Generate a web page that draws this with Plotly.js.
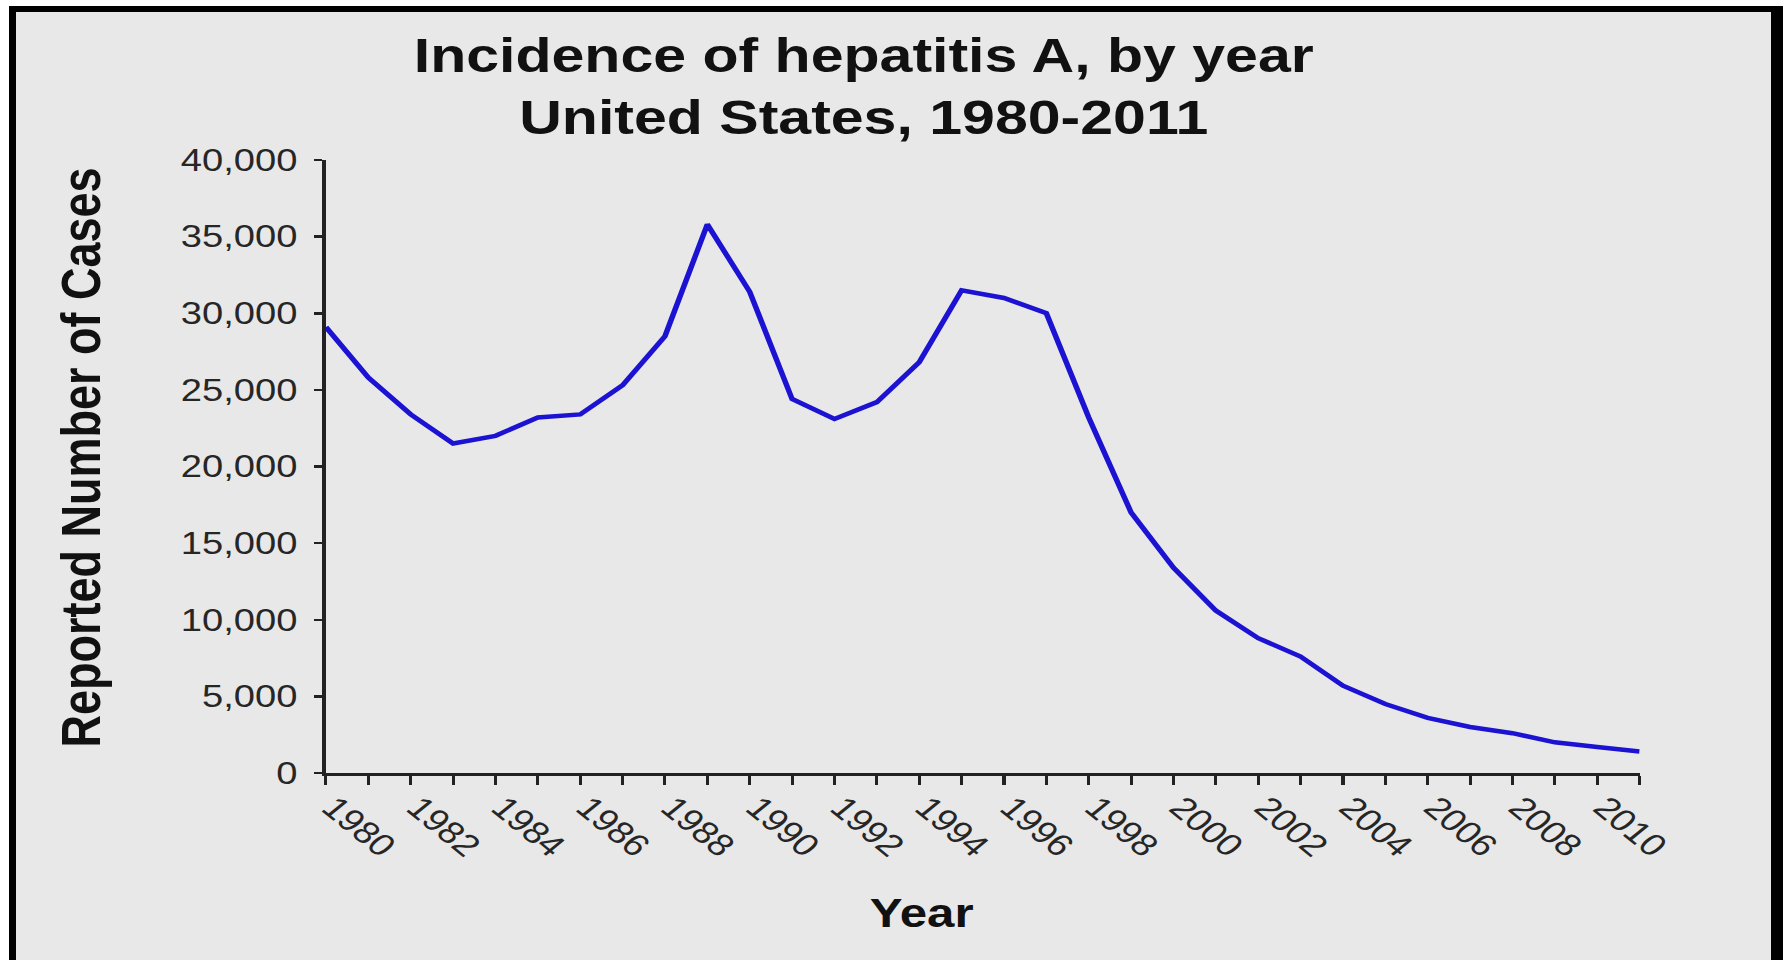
<!DOCTYPE html>
<html>
<head>
<meta charset="utf-8">
<script src="https://cdn.plot.ly/plotly-3.0.1.min.js"></script>
<style>
  html, body { margin: 0; padding: 0; background: #ffffff; width: 1783px; height: 960px; overflow: hidden; }
  #frame {
    position: absolute; left: 9px; top: 6px;
    width: 1755px; height: 954px;
    border-left: 7px solid #000; border-top: 6px solid #000; border-right: 12px solid #000;
    background: #e8e8e8; overflow: hidden;
  }
  #chart { position: absolute; left: 0; top: 0; width: 1427px; height: 948px; transform: scaleX(1.23); transform-origin: 0 0; }
</style>
</head>
<body>
<div id="frame"><div id="chart"></div></div>
<script>
// Data
const years = [1980,1981,1982,1983,1984,1985,1986,1987,1988,1989,1990,1991,1992,1993,1994,1995,
               1996,1997,1998,1999,2000,2001,2002,2003,2004,2005,2006,2007,2008,2009,2010,2011];
const cases = [29100,25800,23400,21500,22000,23200,23400,25300,28500,35800,31400,24400,23100,24200,26800,31500,
               31000,30000,23200,17000,13400,10600,8800,7600,5700,4500,3600,3000,2600,2000,1700,1400];
const xTickLabels = years.map(y => (y % 2 === 0 && y <= 2010) ? String(y) : "");
const yTickVals = [0,5000,10000,15000,20000,25000,30000,35000,40000];
const yTickLabels = ["0","5,000","10,000","15,000","20,000","25,000","30,000","35,000","40,000"];

const titleText = "Incidence of hepatitis A, by year<br>United States, 1980-2011";
const yTitle = "Reported Number of Cases";
const xTitle = "Year";

const FONT = "Liberation Sans, Arial, sans-serif";

const trace = {
  x: years, y: cases, type: "scatter", mode: "lines",
  line: { color: "#1c12d2", width: 4.5 },
  hoverinfo: "x+y"
};

const layout = {
  width: 1427, height: 948,
  paper_bgcolor: "#e8e8e8", plot_bgcolor: "#e8e8e8",
  margin: { l: 252, r: 107, t: 148, b: 187 },
  showlegend: false,
  font: { family: FONT, color: "#222" },
  title: {
    text: titleText,
    font: { family: FONT, size: 48, color: "#111", weight: "bold" },
    x: 0.483, xanchor: "center", xref: "container",
    y: 0.937, yanchor: "middle", yref: "container"
  },
  xaxis: {
    type: "linear", range: [1980, 2011],
    tickmode: "array", tickvals: years, ticktext: xTickLabels,
    tickangle: 45,
    ticks: "outside", ticklen: 9, tickwidth: 2.5, tickcolor: "#222",
    showline: true, linecolor: "#222", linewidth: 3,
    showgrid: false, zeroline: false,
    ticklabelstandoff: -8,
    ticklabelshift: 6,
    tickfont: { family: FONT, size: 31, color: "#262626" }
  },
  yaxis: {
    range: [0, 40000],
    tickmode: "array", tickvals: yTickVals, ticktext: yTickLabels,
    ticks: "outside", ticklen: 7, tickwidth: 2.5, tickcolor: "#222",
    showline: true, linecolor: "#222", linewidth: 3,
    showgrid: false, zeroline: false,
    ticklabelstandoff: 7,
    tickfont: { family: FONT, size: 31, color: "#262626" }
  },
  annotations: [
    { text: yTitle, xref: "paper", yref: "paper", x: -0.187, y: 0.515,
      xanchor: "center", yanchor: "middle", textangle: -90, showarrow: false,
      font: { family: FONT, size: 45, color: "#111", weight: "bold" } },
    { text: xTitle, xref: "paper", yref: "paper", x: 0.454, y: -0.228,
      xanchor: "center", yanchor: "middle", showarrow: false,
      font: { family: FONT, size: 40, color: "#111", weight: "bold" } }
  ]
};

Plotly.newPlot("chart", [trace], layout, { displayModeBar: false, staticPlot: true });
</script>
</body>
</html>
